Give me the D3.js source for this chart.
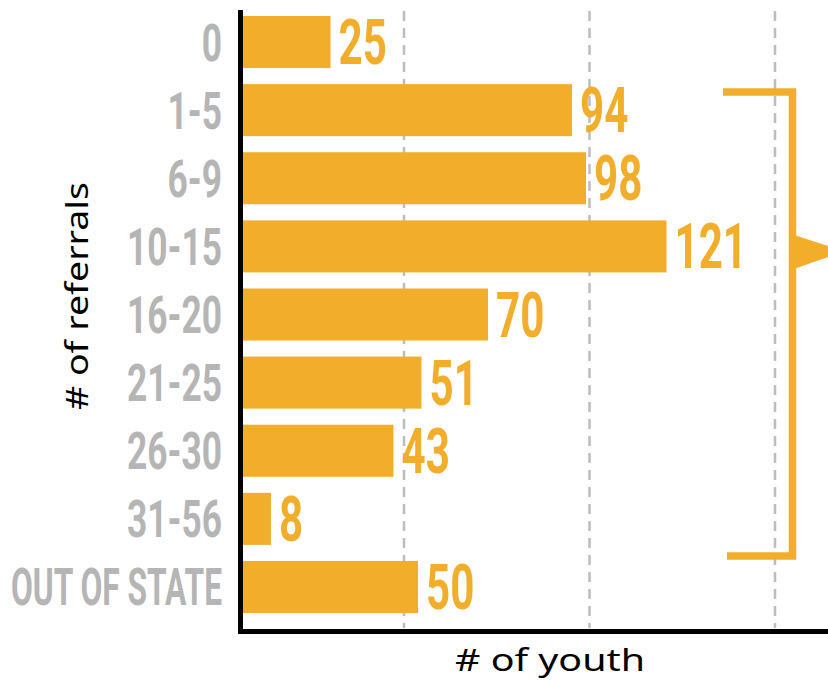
<!DOCTYPE html>
<html>
<head>
<meta charset="utf-8">
<script src="https://cdn.jsdelivr.net/npm/d3@7"></script>
<style>
  html, body { margin: 0; padding: 0; background: #fff; }
  svg { display: block; }
</style>
</head>
<body>
<div id="chart"></div>
<script>
// ── Data ────────────────────────────────────────────────────
const categories = ['0', '1-5', '6-9', '10-15', '16-20', '21-25', '26-30', '31-56', 'OUT OF STATE'];
const youthCounts = [25, 94, 98, 121, 70, 51, 43, 8, 50];
const gridValues = [46, 99, 152];          // dashed guide lines
const bracketFrom = '1-5';                  // bracketed group of categories
const bracketTo = '31-56';

const W = 828, H = 680;
const ORANGE = '#f2ae2b';
const GREY = '#b5b5b5';

const svg = d3.select('#chart').append('svg')
  .attr('width', W)
  .attr('height', H);

// ── Scales ──────────────────────────────────────────────────
const x = d3.scaleLinear().domain([0, 100]).range([243, 593]);
const y = d3.scaleBand().domain(categories).range([16, 613]).paddingInner(0.236).paddingOuter(0);
const bw = y.bandwidth();

// ── Grid lines ──────────────────────────────────────────────
svg.append('g').selectAll('line')
  .data(gridValues).join('line')
  .attr('x1', d => x(d)).attr('x2', d => x(d))
  .attr('y1', 11).attr('y2', 628)
  .attr('stroke', '#bdbdbd')
  .attr('stroke-width', 2.5)
  .attr('stroke-dasharray', '10,7');

// ── Bars ────────────────────────────────────────────────────
svg.append('g').selectAll('rect')
  .data(categories).join('rect')
  .attr('x', x(0))
  .attr('y', d => y(d))
  .attr('width', (d, i) => x(youthCounts[i]) - x(0))
  .attr('height', bw)
  .attr('fill', ORANGE);

// condensed look: squeeze regular glyphs horizontally
function squeezedText(g, sx) {
  return g.append('text').attr('transform', `scale(${sx},1)`);
}

// ── Value labels ────────────────────────────────────────────
svg.append('g').selectAll('g')
  .data(categories).join('g')
  .attr('transform', (d, i) => `translate(${x(youthCounts[i]) + 8},${y(d) + bw / 2 + 22})`)
  .each(function (d, i) {
    squeezedText(d3.select(this), 0.68)
      .attr('font-family', 'Roboto, "Liberation Sans", sans-serif')
      .attr('font-weight', 700)
      .attr('font-size', 62)
      .attr('fill', ORANGE)
      .text(youthCounts[i]);
  });

// ── Category labels ─────────────────────────────────────────
svg.append('g').selectAll('g')
  .data(categories).join('g')
  .attr('transform', d => `translate(222,${y(d) + bw / 2 + 18.5})`)
  .each(function (d) {
    squeezedText(d3.select(this), d.length > 6 ? 0.61 : 0.68)
      .attr('text-anchor', 'end')
      .attr('font-family', 'Roboto, "Liberation Sans", sans-serif')
      .attr('font-weight', 700)
      .attr('font-size', 52)
      .attr('fill', GREY)
      .text(d);
  });

// ── Axes (plain heavy lines) ────────────────────────────────
svg.append('line')
  .attr('x1', 240.5).attr('x2', 240.5)
  .attr('y1', 10).attr('y2', 634)
  .attr('stroke', '#000').attr('stroke-width', 5);
svg.append('line')
  .attr('x1', 238).attr('x2', W)
  .attr('y1', 631.5).attr('y2', 631.5)
  .attr('stroke', '#000').attr('stroke-width', 5);

// ── Axis titles ─────────────────────────────────────────────
svg.append('text')
  .attr('x', 550).attr('y', 671)
  .attr('text-anchor', 'middle')
  .attr('font-family', '"Noto Sans", "Open Sans", sans-serif')
  .attr('font-size', 30)
  .attr('textLength', 190)
  .attr('lengthAdjust', 'spacingAndGlyphs')
  .attr('fill', '#000')
  .text('# of youth');

svg.append('text')
  .attr('transform', 'translate(88,296) rotate(-90)')
  .attr('text-anchor', 'middle')
  .attr('font-family', '"Noto Sans", "Open Sans", sans-serif')
  .attr('font-size', 31)
  .attr('textLength', 228)
  .attr('lengthAdjust', 'spacingAndGlyphs')
  .attr('fill', '#000')
  .text('# of referrals');

// ── Bracket around 1-5 … 31-56 with pointer ─────────────────
const bTop = y(bracketFrom) + 8;
const bBot = y(bracketTo) + bw + 11;
const bx = 792.5;
const tipY = y('10-15') + bw / 2 + 5;

svg.append('path')
  .attr('d', `M723,${bTop}H${bx}V${bBot}H727`)
  .attr('fill', 'none')
  .attr('stroke', ORANGE)
  .attr('stroke-width', 7.5);

svg.append('path')
  .attr('d', `M${bx},${tipY - 17}L${bx + 52},${tipY}L${bx},${tipY + 18}Z`)
  .attr('fill', ORANGE);
</script>
</body>
</html>
